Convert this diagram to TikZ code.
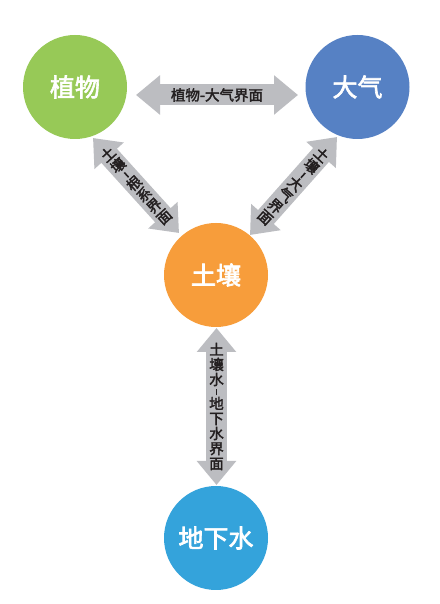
\documentclass[tikz,border=0pt]{standalone}
\usepackage{fontspec}
\setmainfont{Noto Sans CJK SC}
\newfontfamily\medfont[FakeBold=2.5]{Noto Sans CJK SC}
\usetikzlibrary{arrows.meta,calc}
\definecolor{cgreen}{RGB}{151,201,87}
\definecolor{cblue}{RGB}{86,129,196}
\definecolor{corange}{RGB}{247,157,59}
\definecolor{clblue}{RGB}{52,163,219}
\definecolor{agray}{RGB}{188,189,193}
\definecolor{atext}{RGB}{35,31,32}
\tikzset{
  ball/.style={circle, minimum size=104pt, inner sep=0pt, text=white,
    font=\fontsize{25}{25}\selectfont\medfont},
  blockarrow/.style={agray, line width=21pt,
    {Triangle[length=24pt,width=38pt]}-{Triangle[length=24pt,width=38pt]}},
  alabel/.style={text=atext, inner sep=0pt, align=center,
    font=\fontsize{14.5}{15}\selectfont\medfont}
}
\newcommand{\vhy}{\rule[4.5pt]{1.6pt}{6.5pt}\\[-6pt]}
\begin{document}
\begin{tikzpicture}[x=1pt,y=1pt]
\useasboundingbox (0,0) rectangle (439,604);
\fill[white] (0,0) rectangle (439,604);
% circles
\node[ball, fill=cgreen] (plant) at (75,517) {植物};
\node[ball, fill=cblue] (air) at (357.5,517) {大气};
\node[ball, fill=corange] (soil) at (216,329) {土壤};
\node[ball, fill=clblue] (ground) at (216,66) {地下水};
% arrow end points
\coordinate (h1) at (136,509);
\coordinate (h2) at (298,509);
\coordinate (v1) at (216.5,276);
\coordinate (v2) at (216.5,119);
\coordinate (l1) at (93,466);
\coordinate (l2) at (179,371);
\coordinate (r1) at (337,467);
\coordinate (r2) at (250,369);
% arrows
\draw[blockarrow] (h1) -- (h2);
\draw[blockarrow] (v1) -- (v2);
\draw[blockarrow] (l1) -- (l2);
\draw[blockarrow] (r1) -- (r2);
% labels
\node[alabel] (hl) at ($(h1)!0.5!(h2)$) {植物-大气界面};
\node[alabel] (vl) at ($(v1)!0.5!(v2)$) {土\\壤\\水\\\vhy 地\\下\\水\\界\\面};
\node[alabel, rotate=42] (ll) at ($(l1)!0.5!(l2)$) {土\\壤\\\vhy 根\\系\\界\\面};
\node[alabel, rotate=-42] (rl) at ($(r1)!0.5!(r2)$) {土\\壤\\\vhy 大\\气\\界\\面};
\end{tikzpicture}
\end{document}
